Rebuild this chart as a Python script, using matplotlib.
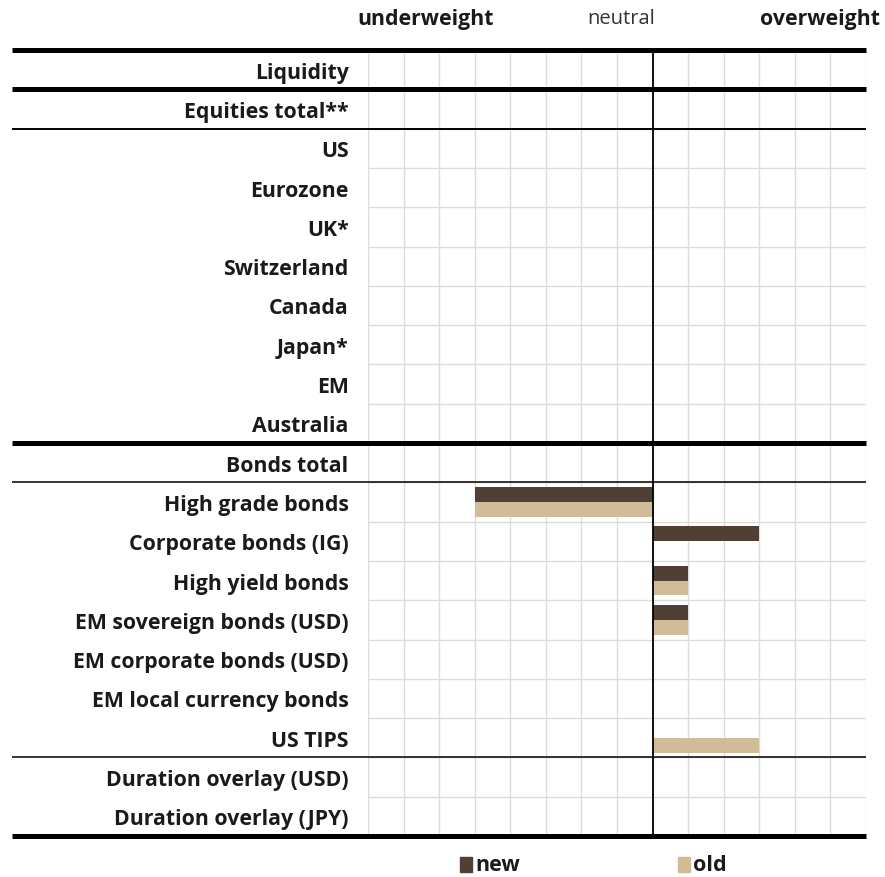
import numpy as np
import matplotlib.pyplot as plt
from matplotlib.transforms import blended_transform_factory

# asset classes, top to bottom
categories = [
    "Liquidity", "Equities total**", "US", "Eurozone", "UK*", "Switzerland",
    "Canada", "Japan*", "EM", "Australia", "Bonds total", "High grade bonds",
    "Corporate bonds (IG)", "High yield bonds", "EM sovereign bonds (USD)",
    "EM corporate bonds (USD)", "EM local currency bonds", "US TIPS",
    "Duration overlay (USD)", "Duration overlay (JPY)",
]
# tilt vs. neutral (grid steps)
new = [0, 0, 0, 0, 0, 0, 0, 0, 0, 0, 0, -5, 3, 1, 1, 0, 0, 0, 0, 0]
old = [0, 0, 0, 0, 0, 0, 0, 0, 0, 0, 0, -5, 0, 1, 1, 0, 0, 3, 0, 0]

# section separators: (after row index, linewidth)
sections = [(-1, 3.6), (0, 3.6), (1, 1.4), (9, 3.6), (10, 1.1), (17, 1.1), (19, 3.6)]

C_NEW = "#4f3f34"
C_OLD = "#d0bc98"

plt.rcParams["font.family"] = ["Open Sans", "DejaVu Sans"]

W, H = 885, 878
fig = plt.figure(figsize=(W / 100, H / 100), dpi=100)
x0, x1, ytop, ybot = 368, 866, 51, 837
ax = fig.add_axes([x0 / W, 1 - ybot / H, (x1 - x0) / W, (ybot - ytop) / H])

n = len(categories)
y = np.arange(n)
ax.set_xlim(-8, 6)
ax.set_ylim(n - 0.5, -0.5)

# grid
for xv in range(-8, 7):
    ax.axvline(xv, color="#dcdcdc", lw=1.0, zorder=0)
for k in range(n - 1):
    ax.axhline(k + 0.5, color="#dcdcdc", lw=1.0, zorder=0)
ax.axvline(0, color="black", lw=1.3, zorder=3)

bh = 0.38
ax.barh(y - bh / 2, new, height=bh, color=C_NEW, zorder=2, label="new")
ax.barh(y + bh / 2, old, height=bh, color=C_OLD, zorder=2, label="old")

for s in ax.spines.values():
    s.set_visible(False)
ax.set_xticks([])
ax.set_yticks(y)
ax.set_yticklabels(categories, fontsize=15.3, fontweight="bold", color="#1a1a1a")
ax.tick_params(axis="y", length=0, pad=14)

trans = blended_transform_factory(ax.transAxes, ax.transData)
left = (12 - x0) / (x1 - x0)
for k, lw in sections:
    ax.plot([left, 1], [k + 0.5, k + 0.5], color="black", lw=lw,
            transform=trans, clip_on=False, solid_capstyle="butt", zorder=4)

# header
fig.text(426 / W, 1 - 19 / H, "underweight", ha="center", va="center",
         fontsize=15.3, fontweight="bold", color="#1a1a1a")
fig.text(621 / W, 1 - 19 / H, "neutral", ha="center", va="center",
         fontsize=14.5, color="#333333")
fig.text(880 / W, 1 - 19 / H, "overweight", ha="right", va="center",
         fontsize=15.3, fontweight="bold", color="#1a1a1a")

# legend
for xs, lab, col in [(460, "new", C_NEW), (678, "old", C_OLD)]:
    fig.patches.append(plt.Rectangle((xs / W, 1 - 873 / H), 12 / W, 15 / H,
                                     transform=fig.transFigure, color=col))
    fig.text((xs + 15) / W, 1 - 866 / H, lab, ha="left", va="center",
             fontsize=15.5, fontweight="bold", color="#1a1a1a")

fig.savefig("out.png", dpi=100)
